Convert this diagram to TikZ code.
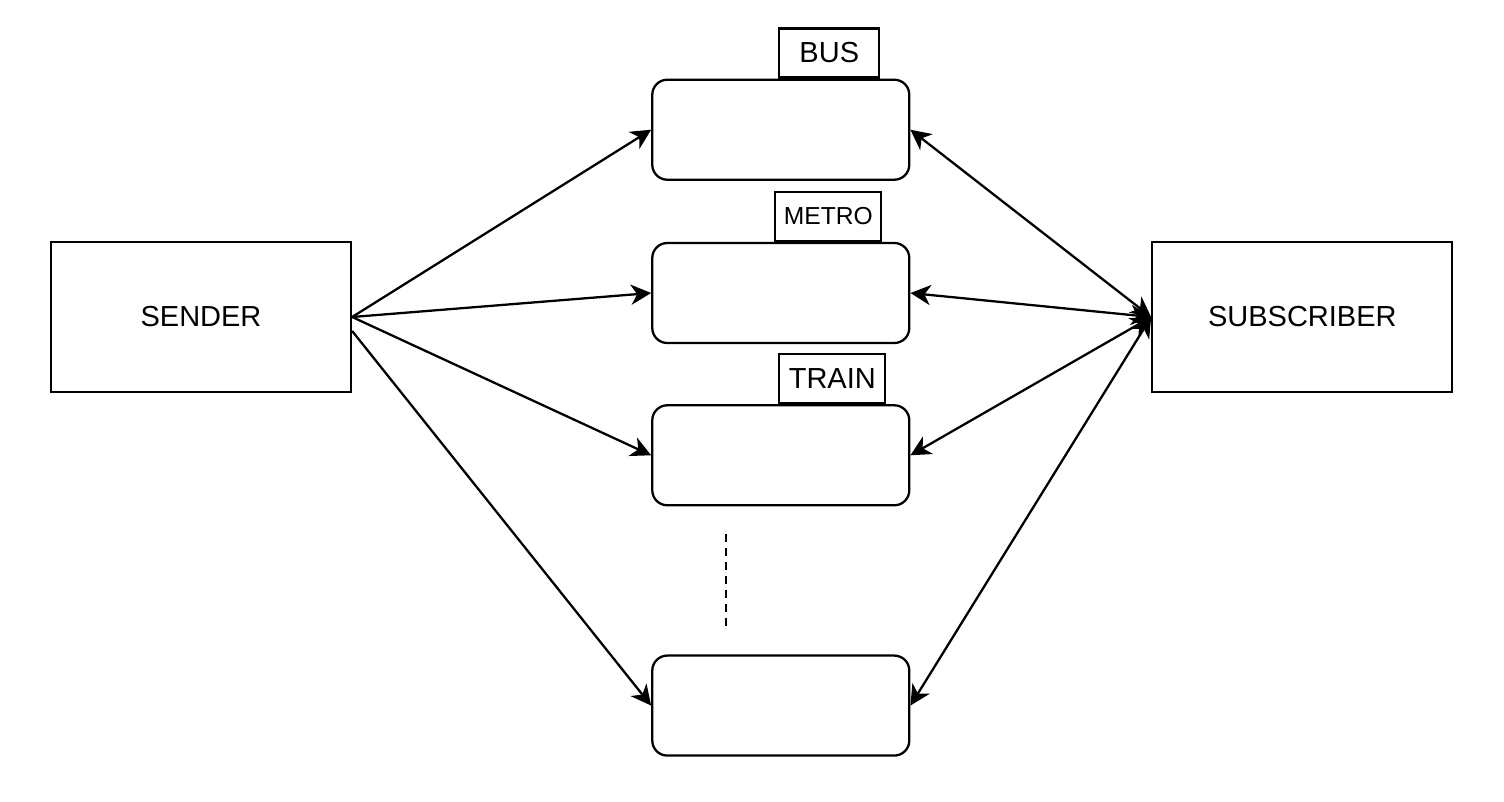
\documentclass[tikz,border=0pt]{standalone}
\usepackage{fontspec}
\setmainfont{Liberation Sans}
\usetikzlibrary{arrows.meta, positioning}
\usetikzlibrary{calc}

\begin{document}
\begin{tikzpicture}[line width=1.3pt, font=\fontsize{16.5}{20}\selectfont]
			% Define style
			\tikzset{
				endpoint/.style={rectangle, minimum width=6cm, minimum height=3cm, text centered, draw=black},
				channel/.style={rectangle, rounded corners=0.3cm, minimum width=5.14cm, minimum height=2cm, draw=black},
				tag/.style={rectangle, minimum height=0.98cm, inner sep=0pt, text centered, draw=black},
				arrow/.style={-{Stealth[length=11.5pt, width=11.5pt, inset=3.5pt]}},
				biarrow/.style={{Stealth[length=11.5pt, width=11.5pt, inset=3.5pt]}-{Stealth[length=11.5pt, width=11.5pt, inset=3.5pt]}}
			}
			\useasboundingbox (0,0) rectangle (30.08,-16.02);
			
			% Define blocks
			\node (sender) [endpoint] at (4.02,-6.34) {SENDER};
			\node (subscriber) [endpoint, right=15.98cm of sender] {SUBSCRIBER};
			\node (metro) [channel, right=5.98cm of sender, yshift=0.48cm] {};
			\node (bus) [channel, above=1.22cm of metro] {};
			\node (train) [channel, below=1.2cm of metro] {};
			\node (last) [channel, below=2.96cm of train] {};
			
			% Define tags
			\node (bustag) [tag, minimum width=2cm, anchor=south east] at ($(bus.north east)+(-0.6,0)$) {BUS};
			\node (metrotag) [tag, minimum width=2.12cm, anchor=south east, font=\fontsize{14}{17}\selectfont] at ($(metro.north east)+(-0.56,0)$) {METRO};
			\node (traintag) [tag, minimum width=2.12cm, anchor=south east] at ($(train.north east)+(-0.48,0)$) {TRAIN};
			
			% Define arrows
			\coordinate (senderlow) at ($(sender.east)+(0,-0.28)$);
			\draw [arrow] (sender.east) -- (bus.west);
			\draw [arrow] (sender.east) -- (metro.west);
			\draw [arrow] (sender.east) -- (train.west);
			\draw [arrow] (senderlow) -- (last.west);
			\draw [biarrow] (bus.east) -- (subscriber.west);
			\draw [biarrow] (metro.east) -- (subscriber.west);
			\draw [biarrow] (train.east) -- (subscriber.west);
			\draw [biarrow] (last.east) -- (subscriber.west);
			
			% Define dots
			\coordinate (dotstop) at ($(train.south west)+(1.5,-0.56)$);
			\coordinate (dotsbot) at ($(last.north west)+(1.5,0.5)$);
			\draw [dash pattern=on 4.5pt off 3.4pt] (dotstop) -- (dotsbot);
		\end{tikzpicture}
\end{document}
